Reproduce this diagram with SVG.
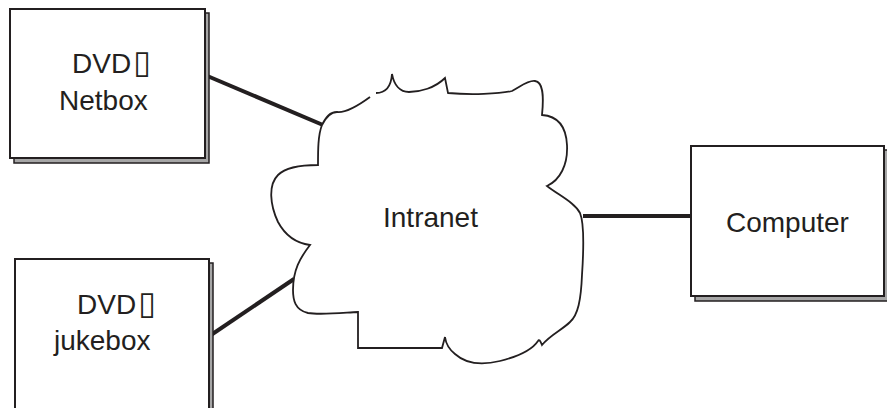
<svg xmlns="http://www.w3.org/2000/svg" width="887" height="408" viewBox="0 0 887 408">
<style>
.shadow{fill:#a6a6a6;stroke:#231f20;stroke-width:1.5}
.box{fill:#fff;stroke:#231f20;stroke-width:2}
.lbl{font-family:"Liberation Sans",Arial,sans-serif;font-size:28px;fill:#231f20}
.sq{font-family:"DejaVu Sans",sans-serif;font-size:32px}
.conn{stroke:#231f20;stroke-width:4;fill:none}
.cloud{fill:#fff;stroke:#231f20;stroke-width:1.8;stroke-linejoin:miter}
</style>
<g id="connectors">
<line class="conn" x1="205" y1="75" x2="323" y2="125"/>
<line class="conn" x1="208" y1="337" x2="294" y2="279"/>
<line class="conn" x1="583" y1="216" x2="691" y2="216"/>
</g>
<g id="netbox">
<rect class="shadow" x="14" y="13" width="195" height="150"/>
<rect class="box" x="10" y="9" width="195" height="149"/>
<text class="lbl" x="72" y="73">DVD<tspan class="sq" dx="2">▯</tspan></text>
<text class="lbl" x="59" y="110">Netbox</text>
</g>
<g id="jukebox">
<rect class="shadow" x="19" y="263" width="194" height="160"/>
<rect class="box" x="15" y="259" width="194" height="160"/>
<text class="lbl" x="77" y="314">DVD<tspan class="sq" dx="2">▯</tspan></text>
<text class="lbl" x="54" y="350">jukebox</text>
</g>
<g id="intranet">
<path class="cloud" d="M 376,93 C 384,93 391,88 392,74 C 394,85 400,92 409,92 C 420,92 435,88 445,78 L 448,93 C 470,95 500,94 512,91 C 520,87 528,80 535,81 C 543,82 544,95 542,115 C 556,116 566,125 567,145 C 568,165 560,180 547,186 C 560,196 575,203 580,213 C 585,225 583,260 582,275 C 581,300 578,315 570,322 C 562,330 550,335 542,345 C 540,340 539,339 538,341 C 532,350 520,356 500,361 C 480,366 465,363 455,354 C 450,350 446,345 445,337 L 442,348 L 358,348 L 358,312 C 340,313 320,315 308,313 C 295,310 293,300 293,290 C 293,270 300,258 310,245 C 295,243 285,235 278,222 C 270,205 268,185 278,175 C 285,168 300,165 318,165 C 318,150 318,135 322,125 C 326,117 330,112 337,112 C 345,113 355,108 370,97"/>
<text class="lbl" x="383" y="227">Intranet</text>
</g>
<g id="computer">
<rect class="shadow" x="695" y="150" width="194" height="151"/>
<rect class="box" x="691" y="146" width="193" height="150"/>
<text class="lbl" x="726" y="232">Computer</text>
</g>
</svg>
